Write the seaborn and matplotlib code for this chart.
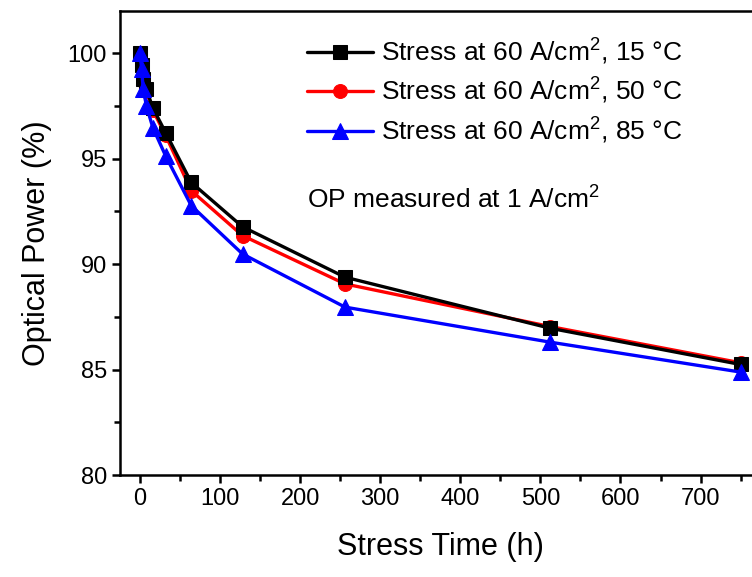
import seaborn as sns
from matplotlib import pyplot as plt
from matplotlib.ticker import MultipleLocator
import pandas as pd

# stress time (h) and optical power (%)
stress_time = [0, 2, 4, 8, 16, 32, 64, 128, 256, 512, 750]
op_15c = [100, 99.46, 98.76, 98.28, 97.41, 96.23, 93.87, 91.77, 89.38, 86.96, 85.24]
op_50c = [100, 99.40, 98.70, 98.20, 97.30, 96.10, 93.48, 91.35, 89.06, 87.04, 85.32]
op_85c = [100, 99.25, 98.30, 97.50, 96.47, 95.13, 92.77, 90.48, 87.96, 86.30, 84.88]

labels = [r"Stress at 60 A/cm$\mathregular{^2}$, 15 °C",
          r"Stress at 60 A/cm$\mathregular{^2}$, 50 °C",
          r"Stress at 60 A/cm$\mathregular{^2}$, 85 °C"]
colors = ["black", "#ff0000", "#0000ff"]
markers = ["s", "o", "^"]
zorders = [3, 2, 4]

sns.set_theme(style="ticks")
plt.rcParams['font.family'] = ['Liberation Sans', 'DejaVu Sans']
plt.rcParams['mathtext.fontset'] = 'custom'
plt.rcParams['mathtext.rm'] = 'Liberation Sans'
plt.rcParams['text.color'] = 'black'
plt.rcParams['axes.labelcolor'] = 'black'
plt.rcParams['xtick.color'] = 'black'
plt.rcParams['ytick.color'] = 'black'

fig = plt.figure(figsize=(7.52, 5.77), dpi=100)
ax = fig.add_axes([120 / 752, 1 - 475 / 577, 640.6 / 752, 464 / 577])

for values, lab, col, mk, z in zip([op_15c, op_50c, op_85c], labels, colors, markers, zorders):
    df = pd.DataFrame({'time': stress_time, 'op': values})
    sns.lineplot(x='time', y='op', data=df, ax=ax, color=col, marker=mk,
                 markersize=11 if mk == "^" else 10, markeredgecolor=col,
                 linewidth=2.4, label=lab, zorder=z)

ax.set_xlim(-25, 775)
ax.set_ylim(80, 102)
ax.xaxis.set_major_locator(MultipleLocator(100))
ax.xaxis.set_minor_locator(MultipleLocator(50))
ax.yaxis.set_major_locator(MultipleLocator(5))
ax.yaxis.set_minor_locator(MultipleLocator(2.5))
ax.tick_params(which='major', direction='out', length=6, width=1.8, labelsize=17)
ax.tick_params(which='minor', direction='out', length=4, width=1.8)
for sp in ax.spines.values():
    sp.set_linewidth(1.8)
    sp.set_color('black')

ax.set_xlabel('Stress Time (h)', fontsize=22, labelpad=16)
ax.set_ylabel('Optical Power (%)', fontsize=22, labelpad=11)

handles, labs = ax.get_legend_handles_labels()
ax.legend(handles, labs, loc='upper left', bbox_to_anchor=(0.292, 0.945),
          frameon=False, fontsize=19, handlelength=2.5, handletextpad=0.3,
          labelspacing=0.36, borderpad=0, borderaxespad=0)

ax.text(0.292, 0.592, r"OP measured at 1 A/cm$\mathregular{^2}$", transform=ax.transAxes,
        fontsize=19, va='center', ha='left')

fig.savefig('out.png', dpi=100)
